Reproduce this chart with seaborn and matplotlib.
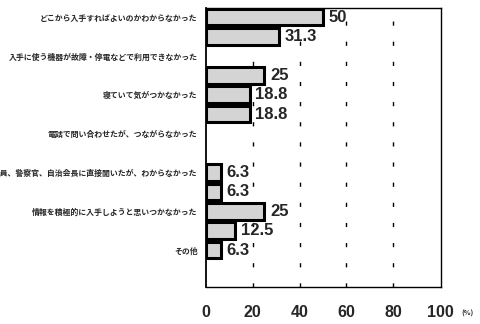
import numpy as np
import pandas as pd
import matplotlib
matplotlib.use("Agg")
import matplotlib.pyplot as plt
import seaborn as sns

# 回答項目 (上から順)
categories = [
    "どこから入手すればよいのかわからなかった",
    "入手に使う機器が故障・停電などで利用できなかった",
    "寝ていて気がつかなかった",
    "電話で問い合わせたが、つながらなかった",
    "市の職員、警察官、自治会長に直接聞いたが、わからなかった",
    "情報を積極的に入手しようと思いつかなかった",
    "その他",
]
# 各項目 2本ずつ (上段 / 下段)
series_names = ["上段", "下段"]
values_top = [50, np.nan, 18.8, np.nan, 6.3, 25, 6.3]
values_bottom = [31.3, 25, 18.8, np.nan, 6.3, 12.5, np.nan]
x_ticks = [0, 20, 40, 60, 80, 100]

df = pd.DataFrame({
    "item": categories * 2,
    "group": [series_names[0]] * len(categories) + [series_names[1]] * len(categories),
    "pct": values_top + values_bottom,
})

sns.set_style("white")
plt.rcParams['font.family'] = ['Noto Sans CJK JP', 'DejaVu Sans']

fig = plt.figure(figsize=(4.8, 3.24), dpi=100)
ax = fig.add_axes([0.429, 0.114, 0.49, 0.861])

sns.barplot(data=df, y="item", x="pct", hue="group", order=categories,
            hue_order=series_names, orient="h", width=1.0, gap=0.15,
            palette=["#d4d4d4", "#d4d4d4"], errorbar=None, legend=False, ax=ax)

for p in ax.patches:
    p.set_edgecolor("black")
    p.set_linewidth(2.2)

# 数値ラベル (欠損のバーは飛ばす)
for cont in ax.containers:
    for bar in cont:
        if bar is None:
            continue
        w = bar.get_width()
        if np.isnan(w):
            continue
        ax.annotate("{:g}".format(w), (w, bar.get_y() + bar.get_height() / 2),
                    xytext=(4, 0), textcoords="offset points", va="center",
                    fontsize=12, family=['Liberation Sans'], fontweight='bold')

ax.set_xlim(0, 100.5)
ax.set_ylim(6.7, -0.48)
ax.set_xticks(x_ticks)
ax.set_xticklabels([str(t) for t in x_ticks], fontsize=11.5,
                   family=['Liberation Sans'], fontweight='bold')
ax.tick_params(axis='x', length=0, pad=13)
ax.tick_params(axis='y', length=0, pad=6)

# ラベルは各組の上段バーに合わせる
ax.set_yticks(np.arange(len(categories)) - 0.25)
ax.set_yticklabels(categories, fontsize=5.7, fontweight='bold')
ax.set_xlabel("")
ax.set_ylabel("")

for t in x_ticks[1:-1]:
    ax.axvline(t, color="black", lw=1.0, ls=(0, (3, 11.5)), zorder=0)

for s in ["left", "top", "right"]:
    ax.spines[s].set_color("black")
    ax.spines[s].set_linewidth(1.0)
ax.spines["left"].set_linewidth(1.3)
ax.spines["bottom"].set_color("black")
ax.spines["bottom"].set_linewidth(1.0)
ax.spines["bottom"].set_linestyle((0, (6, 1)))

fig.text(0.973, 0.033, "(%)", fontsize=5, fontweight='bold', ha='center', va='center')

fig.savefig("out.png", dpi=100)
